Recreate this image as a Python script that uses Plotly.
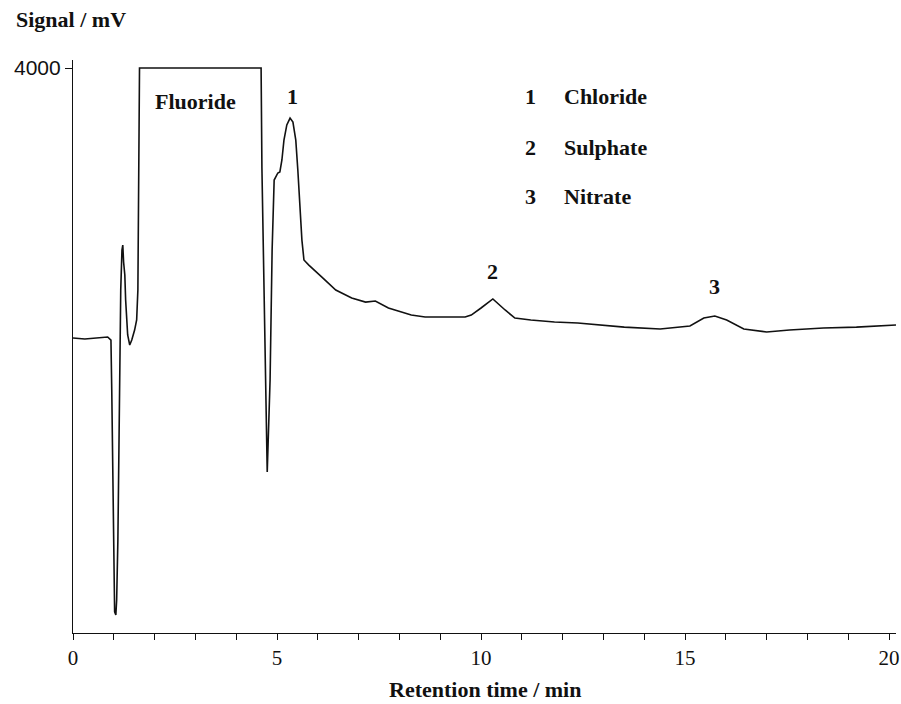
import plotly.graph_objects as go

# Retention time (min) and signal (mV)
time_min = [0.00, 0.29, 0.85, 0.93, 0.95, 0.98, 1.00, 1.02, 1.05, 1.07, 1.10, 1.12, 1.15,
            1.17, 1.20, 1.22, 1.24, 1.27, 1.29, 1.34, 1.39, 1.44, 1.51, 1.56, 1.59, 1.61,
            1.63, 4.61, 4.63, 4.76, 4.83, 4.88, 4.93, 5.02, 5.07, 5.12, 5.17, 5.24, 5.32,
            5.39, 5.46, 5.51, 5.56, 5.61, 5.66, 5.78, 6.10, 6.44, 6.83, 7.17, 7.41, 7.73,
            8.29, 8.63, 9.61, 9.76, 10.00, 10.29, 10.59, 10.83, 11.22, 11.80, 12.37, 13.51,
            14.39, 15.12, 15.46, 15.73, 16.02, 16.44, 17.00, 17.56, 18.39, 19.20, 20.17]
signal_mv = [2089, 2082, 2096, 2074, 1720, 942, 375, 149, 127, 234, 658, 1296, 2004,
             2428, 2712, 2747, 2627, 2535, 2358, 2110, 2039, 2074, 2145, 2216, 2428, 3066,
             4000, 4000, 3292, 1140, 1791, 2712, 3207, 3257, 3264, 3349, 3490, 3597, 3646,
             3618, 3490, 3278, 2995, 2782, 2641, 2605, 2520, 2428, 2372, 2343, 2351, 2301,
             2251, 2237, 2237, 2251, 2301, 2365, 2287, 2230, 2216, 2202, 2195, 2166,
             2152, 2174, 2230, 2244, 2216, 2152, 2131, 2145, 2159, 2166, 2181]

legend_nums = ["1", "2", "3"]
legend_names = ["Chloride", "Sulphate", "Nitrate"]
peak_times = [5.37, 10.29, 15.73]
peak_label_mv = [3800, 2560, 2450]

x_ticks = list(range(0, 21))
x_ticktext = [str(v) if v % 5 == 0 else "" for v in x_ticks]

SERIF = "Liberation Serif"
FS = 22

fig = go.Figure()
fig.add_trace(go.Scatter(x=time_min, y=signal_mv, mode="lines",
                         line=dict(color="#111111", width=1.6),
                         hoverinfo="skip", showlegend=False))

# peak numbers
for n, t, v in zip(legend_nums, peak_times, peak_label_mv):
    fig.add_annotation(x=t, y=v, text="<b>%s</b>" % n, showarrow=False,
                       font=dict(family=SERIF, size=FS, color="#111"))

fig.add_annotation(x=3.0, y=3760, text="<b>Fluoride</b>", showarrow=False,
                   font=dict(family=SERIF, size=FS, color="#111"))

# key
key_y = [3800, 3440, 3090]
for n, name, yv in zip(legend_nums, legend_names, key_y):
    fig.add_annotation(x=11.22, y=yv, text="<b>%s</b>" % n, showarrow=False,
                       font=dict(family=SERIF, size=FS, color="#111"))
    fig.add_annotation(x=11.98, y=yv, text="<b>%s</b>" % name, showarrow=False,
                       xanchor="left", font=dict(family=SERIF, size=FS, color="#111"))

# axis titles as annotations
fig.add_annotation(xref="paper", yref="paper", x=0.5, y=-0.099, yanchor="middle",
                   text="<b>Retention time / min</b>", showarrow=False,
                   font=dict(family=SERIF, size=FS, color="#111"))
fig.add_annotation(xref="paper", yref="paper", x=-0.072, y=1.07, xanchor="left",
                   yanchor="middle", text="<b>Signal / mV</b>", showarrow=False,
                   font=dict(family=SERIF, size=FS, color="#111"))

fig.update_layout(
    width=901, height=704,
    margin=dict(l=73, r=1, t=60, b=71),
    paper_bgcolor="white", plot_bgcolor="white",
    xaxis=dict(range=[0, 20.17], tickvals=x_ticks, ticktext=x_ticktext,
               ticks="outside", ticklen=6, tickwidth=1, tickcolor="#111",
               showline=True, linecolor="#111", linewidth=1.2,
               showgrid=False, zeroline=False, ticklabeloverflow="allow",
               tickfont=dict(family=SERIF, size=21, color="#111")),
    yaxis=dict(range=[0, 4057], tickvals=[4000], ticktext=["4000"],
               ticks="outside", ticklen=7, tickwidth=1, tickcolor="#111",
               showline=True, linecolor="#111", linewidth=1.2,
               showgrid=False, zeroline=False,
               tickfont=dict(family="Liberation Sans", size=21, color="#111")),
)

fig.write_html("out.html")
